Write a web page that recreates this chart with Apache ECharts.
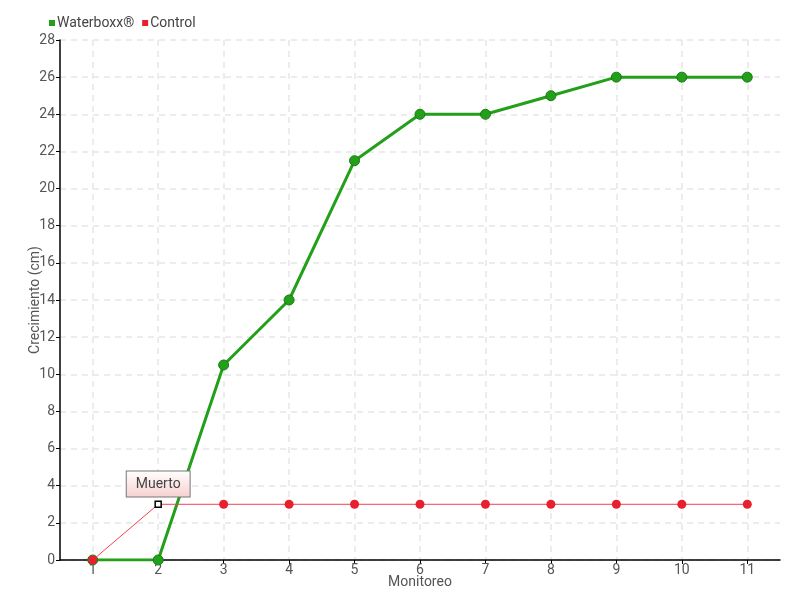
<!DOCTYPE html>
<html><head><meta charset="utf-8">
<script src="https://cdn.jsdelivr.net/npm/echarts@6/dist/echarts.min.js"></script>
<style>html,body{margin:0;padding:0;background:#fff}#c{width:800px;height:600px}</style>
</head><body><div id="c"></div>
<script>
const categories = ['1','2','3','4','5','6','7','8','9','10','11'];
const waterboxx = [0, 0, 10.5, 14, 21.5, 24, 24, 25, 26, 26, 26];
const control = [0, 3, 3, 3, 3, 3, 3, 3, 3, 3, 3];
const deadIndex = 1;
const deadLabel = 'Muerto';
const FONT = "Roboto, 'Open Sans', sans-serif";

const controlData = control.map((v, i) => i === deadIndex ? {
  value: v,
  symbol: 'rect', symbolSize: 6,
  itemStyle: {color: '#fff', borderColor: '#000', borderWidth: 1.5},
  label: {
    show: true, position: 'top', distance: 4, formatter: deadLabel,
    fontFamily: FONT, fontSize: 14, color: '#444',
    backgroundColor: {type: 'linear', x: 0, y: 0, x2: 0, y2: 1,
      colorStops: [{offset: 0, color: '#ffffff'}, {offset: 1, color: '#f8d0d0'}]},
    borderColor: '#777', borderWidth: 1, padding: [6, 9, 5, 9]
  }
} : v);

const chart = echarts.init(document.getElementById('c'), null, {renderer: 'canvas'});
chart.setOption({
  animation: false,
  textStyle: {fontFamily: FONT},
  legend: {
    left: 44, top: 11, itemWidth: 6, itemHeight: 6, itemGap: 8, icon: 'rect',
    itemStyle: {borderWidth: 0},
    textStyle: {fontFamily: FONT, fontSize: 14, color: '#444', padding: [0, 0, 0, -3]},
    data: ['Waterboxx®', 'Control']
  },
  grid: {left: 60, right: 20, top: 40, bottom: 40, containLabel: false},
  xAxis: {
    type: 'category', data: categories, boundaryGap: true,
    name: 'Monitoreo', nameLocation: 'middle', nameGap: 10, nameMoveOverlap: false,
    nameTextStyle: {fontFamily: FONT, fontSize: 14, color: '#555', verticalAlign: 'top', padding: [5, 0, 0, 0]},
    axisLine: {lineStyle: {color: '#000', width: 1.5}},
    axisTick: {show: true, alignWithLabel: true, length: 4, lineStyle: {color: '#000'}},
    axisLabel: {fontFamily: FONT, fontSize: 14, color: '#555', margin: 3},
    splitLine: {show: true, alignWithLabel: true, lineStyle: {color: '#e6e6e6', type: [6, 5], width: 1.5}}
  },
  yAxis: {
    type: 'value', min: 0, max: 28, interval: 2,
    name: 'Crecimiento (cm)', nameLocation: 'middle', nameGap: 18, nameRotate: 90, nameMoveOverlap: false,
    nameTextStyle: {fontFamily: FONT, fontSize: 14, color: '#555'},
    axisLine: {show: true, lineStyle: {color: '#000', width: 1.5}},
    axisTick: {show: true, length: 4, lineStyle: {color: '#000'}},
    axisLabel: {fontFamily: FONT, fontSize: 14, color: '#555', margin: 5},
    splitLine: {show: true, lineStyle: {color: '#e6e6e6', type: [6, 5], width: 1.5}}
  },
  series: [
    {
      name: 'Waterboxx®', type: 'line', data: waterboxx,
      color: '#22a01a',
      lineStyle: {width: 3, color: '#22a01a'},
      symbol: 'circle', symbolSize: 10,
      itemStyle: {color: '#22a01a', borderColor: '#1a7a14', borderWidth: 1},
      z: 2
    },
    {
      name: 'Control', type: 'line', data: controlData,
      color: '#e8202e',
      lineStyle: {width: 1, color: '#f04050'},
      symbol: 'circle', symbolSize: 9,
      itemStyle: {color: '#e8202e'},
      z: 3
    }
  ]
});
</script></body></html>
